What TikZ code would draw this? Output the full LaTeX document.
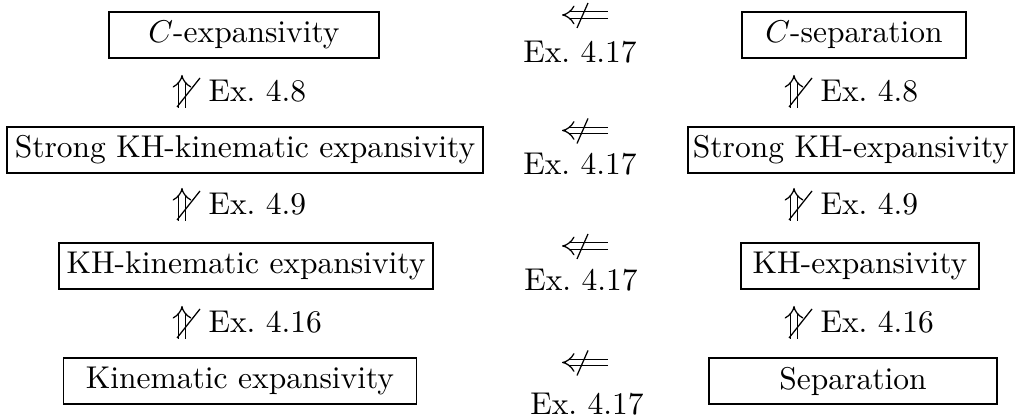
\documentclass[tikz,border=0pt]{standalone}
\usepackage{amsmath}
\usetikzlibrary{arrows.meta}
\begin{document}
\begin{tikzpicture}[x=0.3175pt,y=-0.3175pt]
\tikzset{
  bx/.style={draw, line width=0.45pt, inner sep=0pt, minimum height=14.5pt, minimum width=#1*0.3175pt},
  exlbl/.style={inner sep=0pt, anchor=base west},
  midlbl/.style={inner sep=0pt, anchor=base},
  dbl/.style={double, line width=0.4pt, double distance=1.7pt, -{Implies}},
  slash/.style={line width=0.4pt}
}
\useasboundingbox (0,0) rectangle (1016,417);
% left column
\node[bx=270] (L1) at (244,35) {$C$-expansivity};
\node[bx=476] (L2) at (245,150) {Strong KH-kinematic expansivity};
\node[bx=374] (L3) at (246,266) {KH-kinematic expansivity};
\node[bx=353] (L4) at (240,381) {Kinematic expansivity};
% right column
\node[bx=224] (R1) at (854,35) {$C$-separation};
\node[bx=326] (R2) at (851,150) {Strong KH-expansivity};
\node[bx=238] (R3) at (860,266) {KH-expansivity};
\node[bx=288] (R4) at (853,381) {Separation};
% vertical non-implications
\foreach \b/\lab [count=\i] in {102/4.8, 215/4.9, 333/4.16}{
  \foreach \x/\s in {182/l, 794/r}{
    \coordinate (\s\i bot) at (\x,\b+6);
    \coordinate (\s\i top) at (\x,\b-27);
    \coordinate (\s\i sa) at (\x-5,\b+5);
    \coordinate (\s\i sb) at (\x+18,\b-24);
    \draw[dbl] (\s\i bot) -- (\s\i top);
    \draw[slash] (\s\i sa) -- (\s\i sb);
    \node[exlbl] (\s\i ex) at (\x+26,\b) {Ex.\ \lab};
  }
}
% horizontal non-implications
\foreach \c/\b/\ex [count=\i] in {15/63/580, 130.5/175/580, 246/291/581, 362.5/415/587}{
  \coordinate (m\i r) at (608,\c);
  \coordinate (m\i l) at (562,\c);
  \coordinate (m\i sa) at (577,\c+13);
  \coordinate (m\i sb) at (588,\c-12);
  \draw[dbl] (m\i r) -- (m\i l);
  \draw[slash] (m\i sa) -- (m\i sb);
  \node[midlbl] (e\i) at (\ex,\b) {Ex.\ 4.17};
}
\end{tikzpicture}
\end{document}
